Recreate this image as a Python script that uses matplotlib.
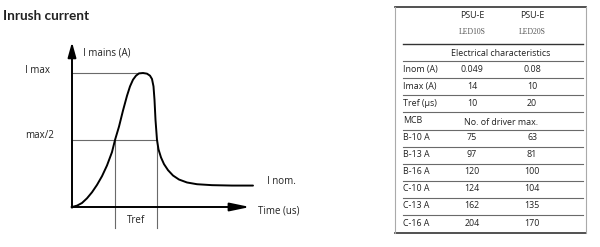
import matplotlib
matplotlib.use("Agg")
import matplotlib.pyplot as plt

plt.rcParams['font.family'] = ['Open Sans', 'DejaVu Sans']

# ---- Diagram data (schematic inrush curve) ----
curve_t = [0, 5, 10, 15, 20, 25, 30, 35, 40, 43, 47, 51, 55, 58, 61, 64, 67, 71,
           75, 78, 80, 81.5, 82.5, 83.5, 85, 86.5, 89, 92, 96, 101, 107, 115, 125,
           140, 160, 181]
curve_i = [0, 1, 3, 6.5, 11, 16.5, 23, 31, 41, 50, 60, 72, 83, 90, 95, 98, 99.7, 100,
           99.5, 98, 95.5, 90, 80, 65, 50, 43, 37, 32, 27.5, 23.5, 20.5, 18.3, 17,
           16.3, 16, 16]
i_max = 100
i_half = 50
t_rise = 43
t_fall = 85
t_peak = 71
i_nom = 16

# ---- Table data ----
models = ["PSU-E", "PSU-E"]
model_codes = ["LED10S", "LED20S"]
elec_labels = ["Inom (A)", "Imax (A)", "Tref (µs)"]
elec_col1 = ["0.049", "14", "10"]
elec_col2 = ["0.08", "10", "20"]
mcb_labels = ["B-10 A", "B-13 A", "B-16 A", "C-10 A", "C-13 A", "C-16 A"]
drivers_col1 = [75, 97, 120, 124, 162, 204]
drivers_col2 = [63, 81, 100, 104, 135, 170]

fig = plt.figure(figsize=(6, 2.47), dpi=100)
txt = '#222222'
grey = '#6a6a6a'

# ---------------- Diagram ----------------
ax = fig.add_axes([0, 0, 0.5, 1])
ax.set_xlim(-72, 228)
ax.set_ylim(-29.85, 154.48)
ax.axis('off')

ax.plot(curve_t, curve_i, color='black', lw=1.4, solid_capstyle='round', zorder=3)
ax.plot([0, t_peak], [i_max, i_max], color=grey, lw=0.8)
ax.plot([0, t_fall], [i_half, i_half], color=grey, lw=0.8)
ax.plot([t_rise, t_rise], [i_half, -16], color=grey, lw=0.8)
ax.plot([t_fall, t_fall], [i_half, -16], color=grey, lw=0.8)

ax.annotate('', xy=(0, 123), xytext=(0, -0.5),
            arrowprops=dict(arrowstyle='-|>,head_length=0.9,head_width=0.25',
                            color='black', lw=1.4, shrinkA=0, shrinkB=0))
ax.annotate('', xy=(178, 0), xytext=(-0.5, 0),
            arrowprops=dict(arrowstyle='-|>,head_length=1.2,head_width=0.25',
                            color='black', lw=1.4, shrinkA=0, shrinkB=0))

fs = 7
ax.text(11, 115, "I mains (A)", fontsize=fs, color=txt, va='center', ha='left')
ax.text(-47, 102, "I max", fontsize=fs, color=txt, va='center', ha='left')
ax.text(-47, 53, "max/2", fontsize=fs, color=txt, va='center', ha='left')
ax.text(195, 19, "I nom.", fontsize=fs, color=txt, va='center', ha='left')
ax.text(186, -3, "Time (us)", fontsize=fs, color=txt, va='center', ha='left')
ax.text((t_rise + t_fall) / 2, -10, "Tref", fontsize=fs, color=txt, va='center', ha='center')

fig.text(3 / 600, 1 - 16.5 / 247, "Inrush current", fontsize=9.8, fontweight='bold',
         color=txt, va='center', ha='left', family=['Lato', 'DejaVu Sans'])

# ---------------- Table ----------------
tb = fig.add_axes([0.5, 0, 0.5, 1])
tb.set_xlim(300, 600)
tb.set_ylim(247, 0)
tb.axis('off')

x_left, x_right = 395, 586
x_lab, x_c1, x_c2, x_mid = 403, 472, 532, 501
tfs = 6.4

# outer box
tb.plot([x_left, x_right], [7, 7], color='#333333', lw=1.2)
tb.plot([x_left, x_right], [233, 233], color='#333333', lw=1.2)
tb.plot([x_left, x_left], [7, 233], color='#aaaaaa', lw=0.8)
tb.plot([x_right, x_right], [7, 233], color='#aaaaaa', lw=0.8)

# header
for xc, m, c in zip([x_c1, x_c2], models, model_codes):
    tb.text(xc, 15, m, fontsize=tfs, color=txt, ha='center', va='center')
    tb.text(xc, 32, c, fontsize=5.6, color='#555555', ha='center', va='center',
            family=['Liberation Serif', 'DejaVu Serif'])
tb.plot([x_lab, 583], [44, 44], color='#333333', lw=1.0)

tb.text(x_mid, 53, "Electrical characteristics", fontsize=tfs, color=txt,
        ha='center', va='center')
tb.plot([x_lab, 583], [61, 61], color=grey, lw=0.8)

y0, pitch = 69, 17.2
for k, (lab, a, b) in enumerate(zip(elec_labels, elec_col1, elec_col2)):
    y = y0 + k * pitch
    tb.text(x_lab, y, lab, fontsize=tfs, color=txt, ha='left', va='center')
    tb.text(x_c1, y, a, fontsize=tfs, color=txt, ha='center', va='center')
    tb.text(x_c2, y, b, fontsize=tfs, color=txt, ha='center', va='center')
    tb.plot([x_lab, 583], [y + 9, y + 9], color=grey, lw=0.8)

tb.text(x_lab, 120, "MCB", fontsize=tfs, color=txt, ha='left', va='center')
tb.text(x_mid, 122, "No. of driver max.", fontsize=tfs, color=txt, ha='center', va='center')
tb.plot([x_lab, 583], [130, 130], color=grey, lw=0.8)

y0 = 137.5
for k, (lab, a, b) in enumerate(zip(mcb_labels, drivers_col1, drivers_col2)):
    y = y0 + k * 17.1
    tb.text(x_lab, y, lab, fontsize=tfs, color=txt, ha='left', va='center')
    tb.text(x_c1, y, str(a), fontsize=tfs, color=txt, ha='center', va='center')
    tb.text(x_c2, y, str(b), fontsize=tfs, color=txt, ha='center', va='center')
    if k < len(mcb_labels) - 1:
        tb.plot([x_lab, 583], [y + 9.5, y + 9.5], color=grey, lw=0.8)

fig.savefig("out.png", dpi=100)
